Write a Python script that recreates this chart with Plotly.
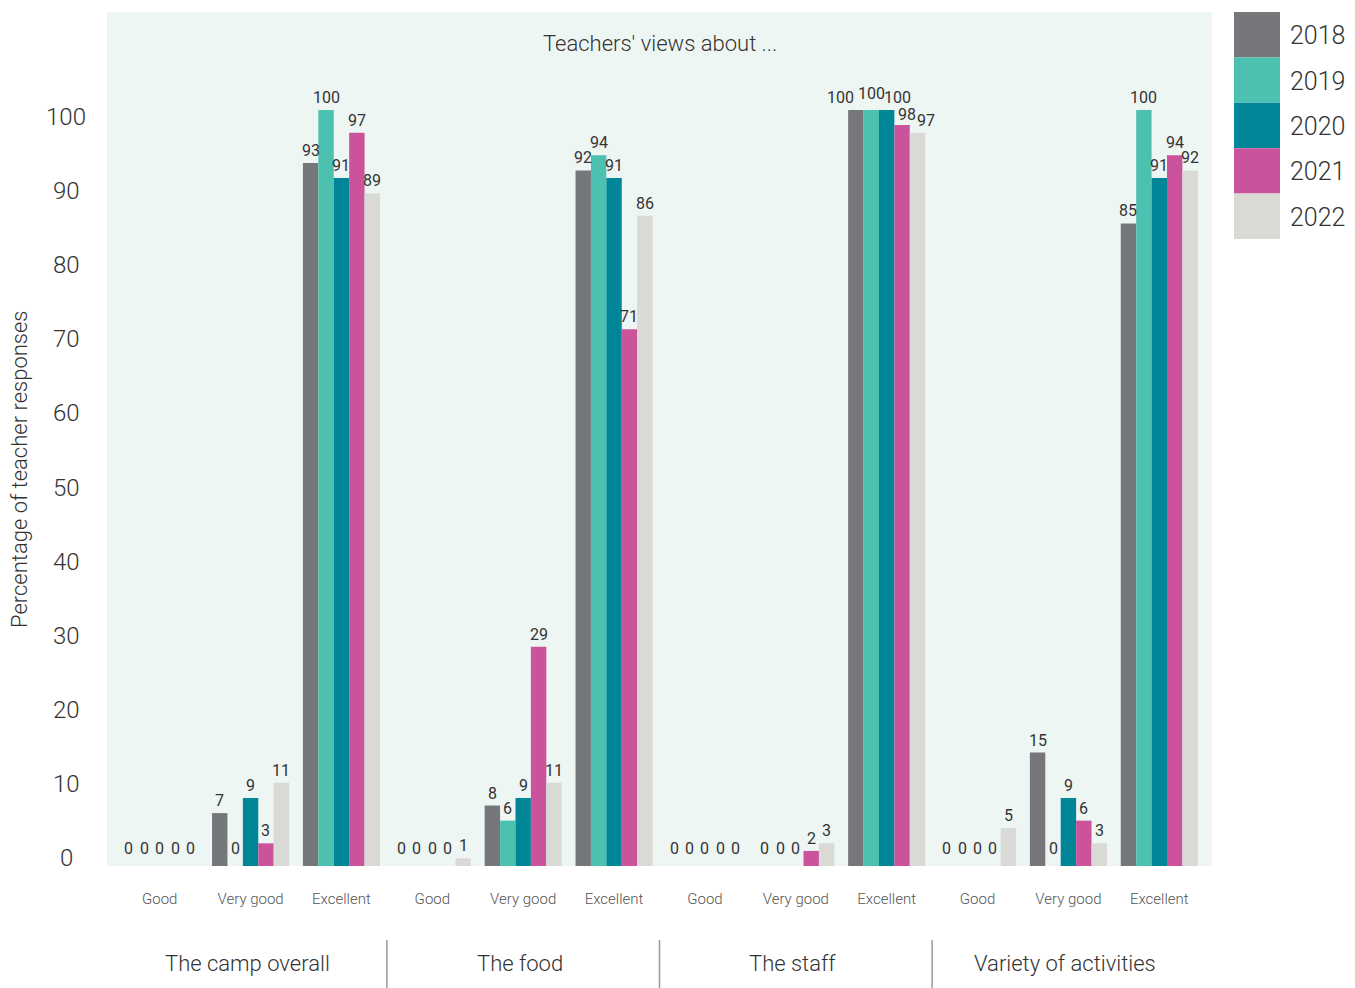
import plotly.graph_objects as go

# Survey topics and rating levels
groups = ["The camp overall", "The food", "The staff", "Variety of activities"]
ratings = ["Good", "Very good", "Excellent"]
years = ["2018", "2019", "2020", "2021", "2022"]

# Percentage of teacher responses, ordered group by group (Good, Very good, Excellent)
values_2018 = [0, 7, 93, 0, 8, 92, 0, 0, 100, 0, 15, 85]
values_2019 = [0, 0, 100, 0, 6, 94, 0, 0, 100, 0, 0, 100]
values_2020 = [0, 9, 91, 0, 9, 91, 0, 0, 100, 0, 9, 91]
values_2021 = [0, 3, 97, 0, 29, 71, 0, 2, 98, 0, 6, 94]
values_2022 = [0, 11, 89, 1, 11, 86, 0, 3, 97, 5, 3, 92]

y_ticks = [0, 10, 20, 30, 40, 50, 60, 70, 80, 90, 100]

series = [values_2018, values_2019, values_2020, values_2021, values_2022]
colors = ["#76777B", "#4DC1B0", "#008696", "#CB539C", "#D9DAD6"]

FONT = "Roboto"
TEXT = "#333333"

categories = [f"{g} · {r}" for g in groups for r in ratings]
tick_text = [r for g in groups for r in ratings]

# plot area in pixels
W, H = 1355, 988
L, R, T, B = 107, 1212, 12, 866
pw, ph = R - L, B - T
X_RANGE = [-0.58, 11.58]
BARGAP = 0.152

def px_x(x):
    return (x - L) / pw

def px_y(y):
    return (B - y) / ph

fig = go.Figure()
for year, vals, col in zip(years, series, colors):
    fig.add_trace(go.Bar(
        x=categories, y=vals, name=year,
        marker=dict(color=col, line=dict(width=0)),
        showlegend=False, hoverinfo="x+y+name",
    ))

fig.update_layout(
    width=W, height=H,
    margin=dict(l=L, r=W - R, t=T, b=H - B, pad=0),
    paper_bgcolor="white",
    plot_bgcolor="#EEF6F4",
    barmode="group", bargap=BARGAP, bargroupgap=0,
    font=dict(family=FONT, color=TEXT, weight=300),
    xaxis=dict(
        type="category", range=X_RANGE,
        tickmode="array", tickvals=categories, ticktext=tick_text,
        tickfont=dict(family=FONT, size=15, color="#555555"),
        ticks="", ticklabelstandoff=22,
        showgrid=False, zeroline=False, showline=False,
    ),
    yaxis=dict(
        range=[0, 112.96], showticklabels=False, ticks="",
        showgrid=False, zeroline=False, showline=False,
    ),
    # scale used for the value labels on the left
    yaxis2=dict(
        range=[-1.08, 114.17], overlaying="y", visible=False,
    ),
)

annotations = []

# value labels above each bar; a few are nudged apart where the bars are crowded
cat_px = pw / (X_RANGE[1] - X_RANGE[0])
bar_px = cat_px * (1 - BARGAP) / len(years)
label_nudge = {  # (series index, category index): (dx, dy) in pixels
    (0, 8): (-15, 0),
    (1, 8): (0, 4),
    (2, 8): (11, 0),
    (3, 8): (5, -2),
    (4, 8): (8, 0),
}
for k, vals in enumerate(series):
    offset = (k - (len(series) - 1) / 2) * bar_px
    for j, v in enumerate(vals):
        dx, dy = label_nudge.get((k, j), (0, 0))
        annotations.append(dict(
            x=categories[j], xref="x", y=v, yref="y",
            xanchor="center", yanchor="bottom",
            xshift=offset + dx, yshift=1 + dy + (5 if v == 0 else 0),
            text=str(v), showarrow=False,
            font=dict(family=FONT, size=16, color=TEXT, weight=400),
        ))

# axis value labels
for v in y_ticks:
    annotations.append(dict(
        x=px_x(66), xref="paper", xanchor="center",
        y=v, yref="y2", yanchor="middle",
        text=str(v), showarrow=False,
        font=dict(family=FONT, size=24, color=TEXT, weight=300),
    ))

# y axis title
annotations.append(dict(
    x=px_x(19), xref="paper", y=px_y(469), yref="paper",
    text="Percentage of teacher responses", textangle=-90,
    showarrow=False, xanchor="center", yanchor="middle",
    font=dict(family=FONT, size=22, color=TEXT, weight=300),
))

# chart heading
annotations.append(dict(
    x=0.5, xref="paper", y=px_y(43), yref="paper",
    text="Teachers' views about ...", showarrow=False,
    xanchor="center", yanchor="middle",
    font=dict(family=FONT, size=22, color=TEXT, weight=300),
))

# group labels centred under each block of three ratings
for i, g in enumerate(groups):
    annotations.append(dict(
        x=3 * i + 1, xref="x", xshift=-3, y=px_y(963), yref="paper",
        text=g, showarrow=False, xanchor="center", yanchor="middle",
        font=dict(family=FONT, size=22, color=TEXT, weight=300),
    ))

shapes = []
# dividers between topic groups
for i in range(1, len(groups)):
    shapes.append(dict(
        type="line", xref="x", yref="paper",
        x0=3 * i - 0.5, x1=3 * i - 0.5, y0=px_y(940), y1=px_y(990),
        line=dict(color="#9A9A9A", width=1.5),
    ))

# legend: colour swatches with year labels
sw = 45.4
for i, (year, col) in enumerate(zip(years, colors)):
    top = 12 + i * sw
    shapes.append(dict(
        type="rect", xref="paper", yref="paper",
        x0=px_x(1234), x1=px_x(1280), y0=px_y(top + sw), y1=px_y(top),
        fillcolor=col, line=dict(width=0),
    ))
    annotations.append(dict(
        x=px_x(1288), xref="paper", y=px_y(top + sw / 2 + 1), yref="paper",
        text=year, showarrow=False, xanchor="left", yanchor="middle",
        font=dict(family=FONT, size=25, color=TEXT, weight=300),
    ))

fig.update_layout(annotations=annotations, shapes=shapes)

fig.write_html("out.html")
